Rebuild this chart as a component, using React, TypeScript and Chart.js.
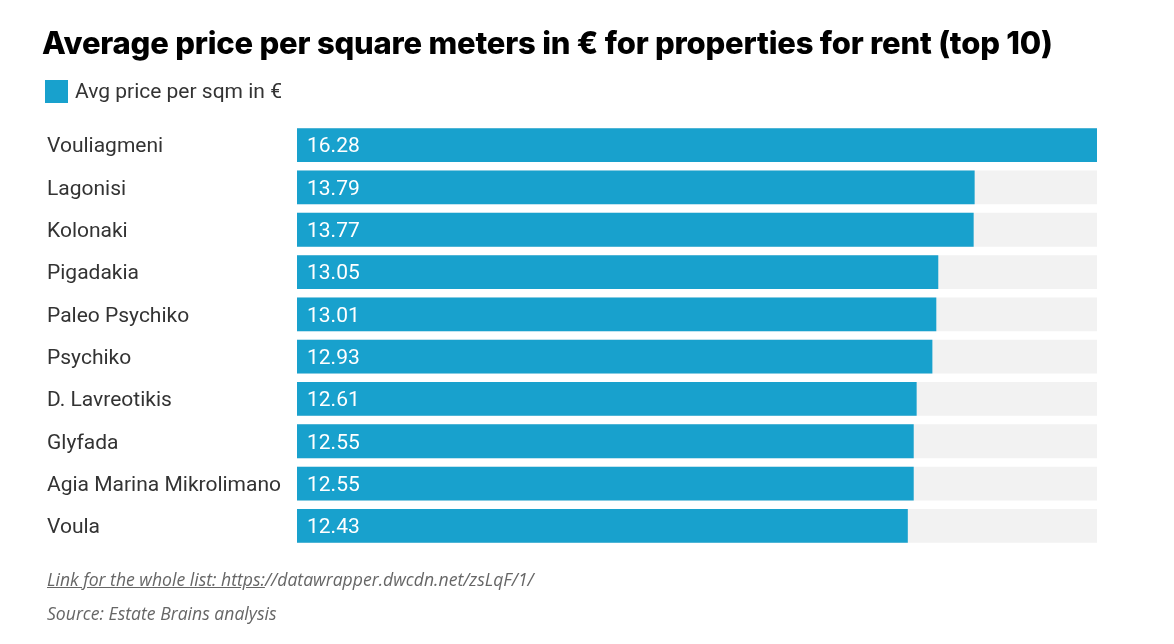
import React, { useEffect, useRef } from "react";
import { Chart, registerables } from "chart.js";

Chart.register(...registerables);

const categories = [
  "Vouliagmeni",
  "Lagonisi",
  "Kolonaki",
  "Pigadakia",
  "Paleo Psychiko",
  "Psychiko",
  "D. Lavreotikis",
  "Glyfada",
  "Agia Marina Mikrolimano",
  "Voula",
];
const values = [16.28, 13.79, 13.77, 13.05, 13.01, 12.93, 12.61, 12.55, 12.55, 12.43];
const seriesLabel = "Avg price per sqm in €";
const titleText = "Average price per square meters in € for properties for rent (top 10)";
const linkPrefix = "Link for the whole list: https:";
const linkRest = "//datawrapper.dwcdn.net/zsLqF/1/";
const sourceText = "Source: Estate Brains analysis";

const BLUE = "#18a1cd";
const GREY = "#f2f2f2";

const valueLabelPlugin = {
  id: "valueLabels",
  afterDatasetsDraw(chart: any) {
    const meta = chart.getDatasetMeta(0);
    const ctx = chart.ctx;
    ctx.save();
    ctx.font = "400 21px Roboto";
    ctx.fillStyle = "#ffffff";
    ctx.textAlign = "left";
    ctx.textBaseline = "middle";
    meta.data.forEach((bar: any, i: number) => {
      const v = values[i];
      ctx.fillText(v.toFixed(2), bar.base + 10, bar.y + 2);
    });
    ctx.restore();
  },
};

export default function App() {
  const ref = useRef<HTMLCanvasElement>(null);

  useEffect(() => {
    const maxVal = Math.max(...values);
    const chart = new Chart(ref.current!, {
      type: "bar",
      data: {
        labels: categories,
        datasets: [
          {
            label: seriesLabel,
            data: values,
            backgroundColor: BLUE,
            borderWidth: 0,
            order: 0,
            grouped: false,
            barPercentage: 0.8,
            categoryPercentage: 1,
          },
          {
            label: "background",
            data: values.map(() => maxVal),
            backgroundColor: GREY,
            borderWidth: 0,
            order: 1,
            grouped: false,
            barPercentage: 0.8,
            categoryPercentage: 1,
          },
        ],
      },
      options: {
        indexAxis: "y",
        responsive: false,
        animation: false,
        devicePixelRatio: 1,
        layout: { padding: { left: 47, right: 77, top: 124, bottom: 97 } },
        plugins: {
          legend: { display: false },
          tooltip: { enabled: false },
        },
        scales: {
          x: { display: false, min: 0, max: maxVal },
          y: {
            grid: { display: false },
            border: { display: false },
            ticks: {
              crossAlign: "far",
              color: "#333333",
              padding: 0,
              labelOffset: 2,
              font: { family: "Roboto", size: 21 },
            },
            afterFit: (s: any) => {
              s.width = 250;
            },
          },
        },
      },
      plugins: [valueLabelPlugin],
    });
    return () => chart.destroy();
  }, []);

  return (
    <div style={{ position: "fixed", left: 0, top: 0, width: 1174, height: 644, background: "#fff", overflow: "hidden" }}>
      <canvas ref={ref} width={1174} height={644} style={{ position: "absolute", left: 0, top: 0, display: "block" }} />
      <div
        style={{
          position: "absolute",
          left: 42,
          top: 23,
          lineHeight: "40px",
          fontFamily: "Inter, 'Open Sans', sans-serif",
          fontWeight: 800,
          fontSize: 31,
          color: "#000",
          whiteSpace: "nowrap",
          letterSpacing: "-0.2px",
        }}
      >
        {titleText}
      </div>
      <div style={{ position: "absolute", left: 45, top: 80, width: 23, height: 23, background: BLUE }} />
      <div
        style={{
          position: "absolute",
          left: 75,
          top: 78,
          lineHeight: "26px",
          fontFamily: "Roboto, sans-serif",
          fontSize: 21,
          color: "#333",
          whiteSpace: "nowrap",
        }}
      >
        {seriesLabel}
      </div>
      <div
        style={{
          position: "absolute",
          left: 47,
          top: 567,
          lineHeight: "24px",
          fontFamily: "'Open Sans', sans-serif",
          fontStyle: "italic",
          fontSize: 17.6,
          color: "#666",
          whiteSpace: "nowrap",
        }}
      >
        <span style={{ textDecoration: "underline" }}>{linkPrefix}</span>
        {linkRest}
      </div>
      <div
        style={{
          position: "absolute",
          left: 47,
          top: 601,
          lineHeight: "24px",
          fontFamily: "'Open Sans', sans-serif",
          fontStyle: "italic",
          fontSize: 17.6,
          color: "#666",
          whiteSpace: "nowrap",
        }}
      >
        {sourceText}
      </div>
    </div>
  );
}
